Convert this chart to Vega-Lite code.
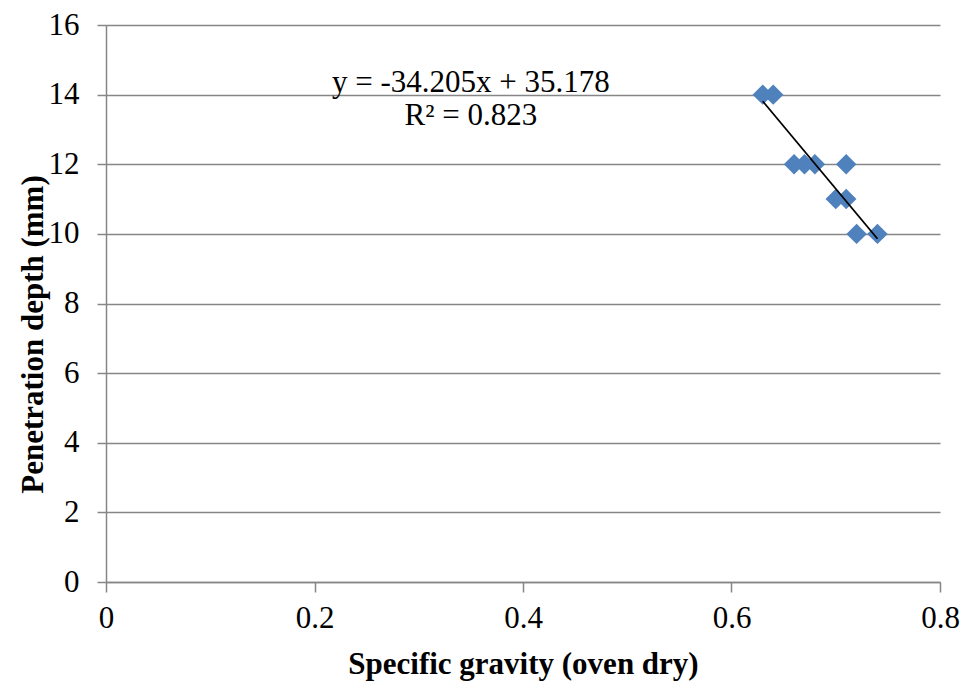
{
  "$schema": "https://vega.github.io/schema/vega-lite/v6.json",
  "autosize": "none",
  "width": 834,
  "height": 557,
  "padding": {"left": 106, "top": 25, "right": 37, "bottom": 116},
  "background": "white",
  "config": {
    "view": {"stroke": null},
    "font": "Liberation Serif"
  },
  "datasets": {
    "points": [
      {"sg": 0.63, "depth": 14},
      {"sg": 0.64, "depth": 14},
      {"sg": 0.66, "depth": 12},
      {"sg": 0.67, "depth": 12},
      {"sg": 0.68, "depth": 12},
      {"sg": 0.71, "depth": 12},
      {"sg": 0.70, "depth": 11},
      {"sg": 0.71, "depth": 11},
      {"sg": 0.72, "depth": 10},
      {"sg": 0.74, "depth": 10}
    ],
    "labels": [
      {"sg": 0.350, "depth": 14.08, "text": "y = -34.205x + 35.178"},
      {"sg": 0.350, "depth": 13.13, "text": "R² = 0.823"}
    ]
  },
  "layer": [
    {
      "data": {"name": "points"},
      "mark": {"type": "point", "shape": "diamond", "filled": true, "size": 420, "color": "#4F81BD", "opacity": 1},
      "encoding": {
        "x": {
          "field": "sg", "type": "quantitative",
          "scale": {"domain": [0, 0.8], "nice": false, "zero": true},
          "axis": {
            "title": "Specific gravity (oven dry)",
            "values": [0, 0.2, 0.4, 0.6, 0.8],
            "format": ".1~f",
            "grid": false,
            "labelFlush": false,
            "domainColor": "#868686", "domainWidth": 1.5,
            "tickColor": "#868686", "tickWidth": 1.5, "tickSize": 10,
            "labelFont": "Liberation Serif", "labelFontSize": 31, "labelColor": "black",
            "labelPadding": 11,
            "titleFont": "Liberation Serif", "titleFontSize": 31, "titleFontWeight": "bold", "titleColor": "black",
            "titleBaseline": "alphabetic", "titleY": 91
          }
        },
        "y": {
          "field": "depth", "type": "quantitative",
          "scale": {"domain": [0, 16], "nice": false},
          "axis": {
            "title": "Penetration depth (mm)",
            "values": [0, 2, 4, 6, 8, 10, 12, 14, 16],
            "grid": true, "gridColor": "#868686", "gridWidth": 1.5,
            "labelFlush": false,
            "domainColor": "#868686", "domainWidth": 1.5,
            "tickColor": "#868686", "tickWidth": 1.5, "tickSize": 9,
            "labelFont": "Liberation Serif", "labelFontSize": 31, "labelColor": "black",
            "labelPadding": 18,
            "titleFont": "Liberation Serif", "titleFontSize": 31, "titleFontWeight": "bold", "titleColor": "black",
            "titleBaseline": "alphabetic", "titleX": -64, "titleY": 309, "titleAngle": -90
          }
        }
      }
    },
    {
      "data": {"name": "points"},
      "transform": [{"regression": "depth", "on": "sg"}],
      "mark": {"type": "line", "color": "black", "strokeWidth": 1.8},
      "encoding": {
        "x": {"field": "sg", "type": "quantitative"},
        "y": {"field": "depth", "type": "quantitative"}
      }
    },
    {
      "data": {"name": "labels"},
      "mark": {"type": "text", "font": "Liberation Serif", "fontSize": 31, "align": "center", "baseline": "alphabetic", "color": "black"},
      "encoding": {
        "x": {"field": "sg", "type": "quantitative"},
        "y": {"field": "depth", "type": "quantitative"},
        "text": {"field": "text"}
      }
    }
  ]
}
